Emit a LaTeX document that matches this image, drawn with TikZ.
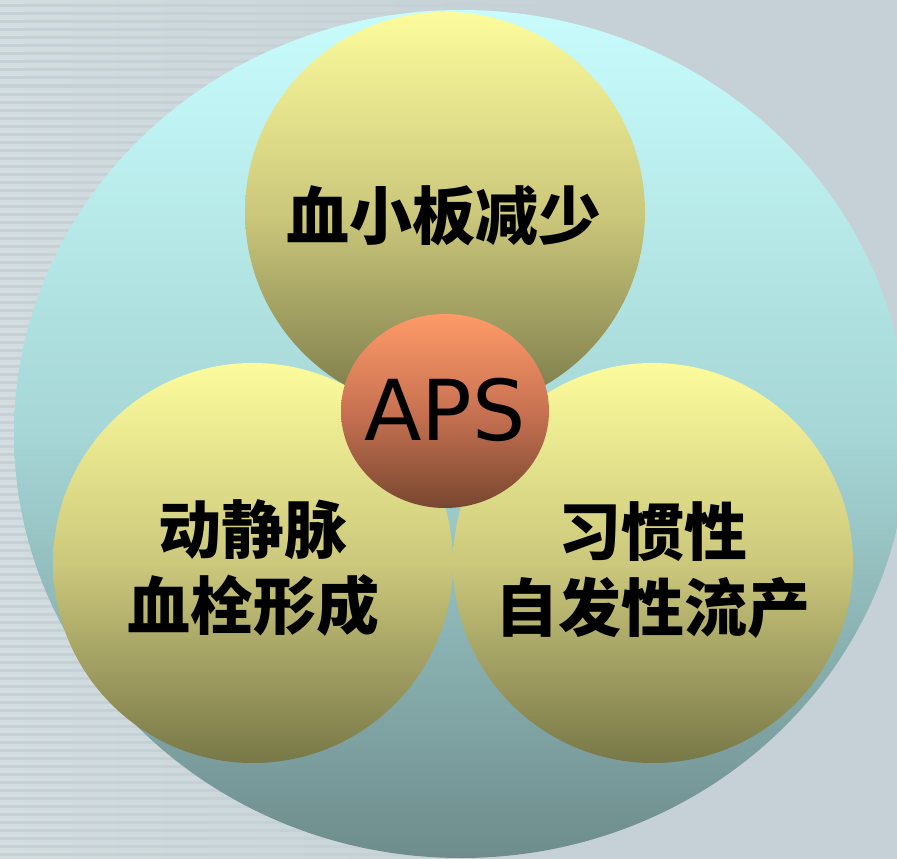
\documentclass[tikz,border=0pt]{standalone}
\usepackage{fontspec}
\newfontfamily\cjk{Noto Sans CJK SC}
\newfontfamily\apsfont{DejaVu Sans}
\definecolor{bggray}{HTML}{C5D1D6}
\definecolor{bgstripe}{HTML}{D3DDE0}
\definecolor{cyantop}{HTML}{C8FCFC}
\definecolor{cyanmid}{HTML}{A6D6D6}
\definecolor{cyanbot}{HTML}{6E8C8C}
\definecolor{yeltop}{HTML}{FCFC9C}
\definecolor{yelmid}{HTML}{CCC87C}
\definecolor{yelbot}{HTML}{787848}
\definecolor{apstop}{HTML}{FF9A68}
\definecolor{apsmid}{HTML}{C87252}
\definecolor{apsbot}{HTML}{78472F}
\tikzset{
  bigdisc/.style={top color=cyantop, bottom color=cyanbot, middle color=cyanmid},
  yeldisc/.style={circle, minimum size=400pt, inner sep=0pt, top color=yeltop, bottom color=yelbot, middle color=yelmid},
  apsdisc/.style={ellipse, minimum width=208pt, minimum height=194pt, inner sep=0pt, top color=apstop, bottom color=apsbot, middle color=apsmid},
  cjktext/.style={font=\cjk\bfseries\fontsize{63pt}{76pt}\selectfont, align=center, text=black},
}
\usetikzlibrary{shapes.geometric}
\begin{document}
\begin{tikzpicture}[x=1pt,y=-1pt]
\useasboundingbox (0,0) rectangle (897,859);
\fill[bggray] (0,0) rectangle (897,859);
\foreach \i in {0,...,107}{
  \shade[left color=bgstripe, right color=bggray] (0,{\i*8}) rectangle (560,{\i*8+4});
}
\shade[bigdisc] (461,434) ellipse [x radius=447, y radius=424];
\node[yeldisc] (top) at (445,212) {};
\node[yeldisc] (left) at (253,563) {};
\node[yeldisc] (right) at (653,563) {};
\node[apsdisc] (aps) at (445,411) {};
\node[cjktext] (ttop) at (444,216) {血小板减少};
\node[cjktext] (tleft) at (253,568) {动静脉\\血栓形成};
\node[cjktext] (tright) at (653,570) {习惯性\\自发性流产};
\node[font=\apsfont\fontsize{84pt}{84pt}\selectfont, text=black] (tap) at (445,410) {APS};
\end{tikzpicture}
\end{document}
